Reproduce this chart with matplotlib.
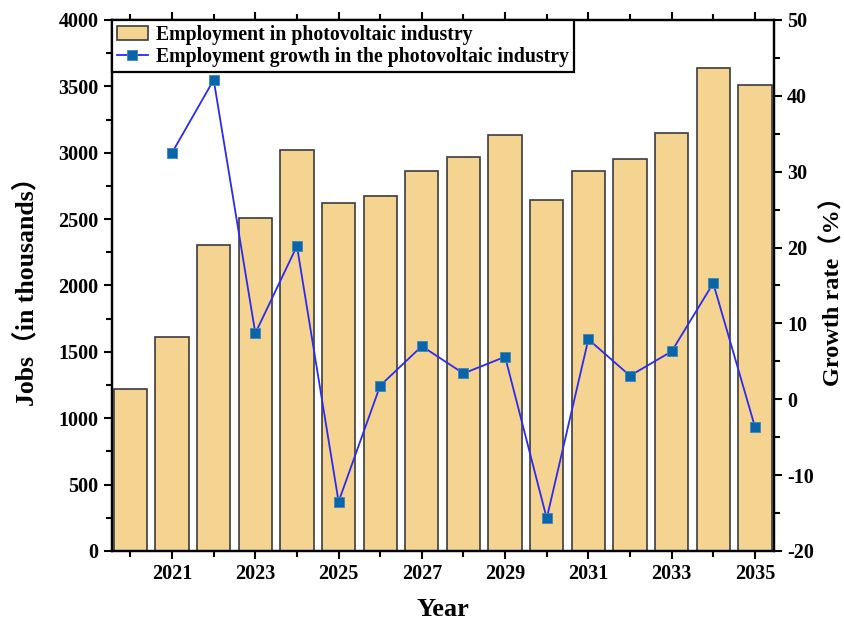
import matplotlib
matplotlib.use("Agg")
import matplotlib.pyplot as plt
from matplotlib.ticker import MultipleLocator

plt.rcParams['font.family'] = ['Liberation Serif', 'Noto Sans CJK SC']
plt.rcParams['font.weight'] = 'bold'
plt.rcParams['axes.unicode_minus'] = False

# Yearly employment (thousands of jobs) and growth rate (%)
years = list(range(2020, 2036))
jobs = [1218, 1614, 2305, 2508, 3021, 2621, 2674, 2862,
        2968, 3134, 2644, 2862, 2953, 3149, 3638, 3510]
growth_years = list(range(2021, 2036))
growth = [32.5, 42.1, 8.7, 20.2, -13.5, 1.8, 7.0, 3.4,
          5.6, -15.7, 7.9, 3.1, 6.3, 15.3, -3.6]

fig = plt.figure(figsize=(8.45, 6.23), dpi=100)
ax = fig.add_axes([0.1322, 0.1156, 0.7838, 0.8524])

bars = ax.bar(years, jobs, width=0.8, color='#F5D492', edgecolor='#3c3c3c',
              linewidth=1.2, label='Employment in photovoltaic industry')
ax.set_xlim(2019.55, 2035.46)
ax.set_ylim(0, 4000)
ax.set_xticks(range(2021, 2036, 2))
ax.set_xticks(range(2020, 2036, 2), minor=True)
ax.yaxis.set_major_locator(MultipleLocator(500))
ax.yaxis.set_minor_locator(MultipleLocator(250))
ax.tick_params(axis='both', which='major', direction='out', length=6, width=1.5,
               labelsize=14.5)
ax.tick_params(axis='both', which='minor', direction='out', length=4, width=1.5)
ax.tick_params(axis='x', which='both', top=True)
ax.set_xlabel('Year', fontsize=19, fontweight='bold', labelpad=10)
ax.set_ylabel('Jobs（in thousands）', fontsize=18.5, fontweight='bold', labelpad=14)
for s in ax.spines.values():
    s.set_linewidth(1.6)

ax2 = ax.twinx()
line, = ax2.plot(growth_years, growth, color='#2b2bf0', linewidth=1.3,
                 marker='s', markersize=6.5, markerfacecolor='#0a64a8',
                 markeredgecolor='#3a86c0', markeredgewidth=0.6,
                 label='Employment growth in the photovoltaic industry')
ax2.set_ylim(-20, 50)
ax2.yaxis.set_major_locator(MultipleLocator(10))
ax2.yaxis.set_minor_locator(MultipleLocator(5))
ax2.tick_params(axis='y', which='major', direction='out', length=6, width=1.5,
                labelsize=14.5)
ax2.tick_params(axis='y', which='minor', direction='out', length=4, width=1.5)
ax2.set_ylabel('Growth rate（%）', fontsize=17.5, fontweight='bold', labelpad=5)
for s in ax2.spines.values():
    s.set_linewidth(1.6)

leg = ax2.legend([bars, line], [bars.get_label(), line.get_label()],
                 loc='upper left', borderaxespad=0, fancybox=False,
                 edgecolor='black', framealpha=1, handlelength=1.6,
                 handletextpad=0.4, borderpad=0.25, labelspacing=0.1,
                 prop={'size': 14.2, 'weight': 'bold'})
leg.get_frame().set_linewidth(1.6)

fig.savefig('out.png', dpi=100)
